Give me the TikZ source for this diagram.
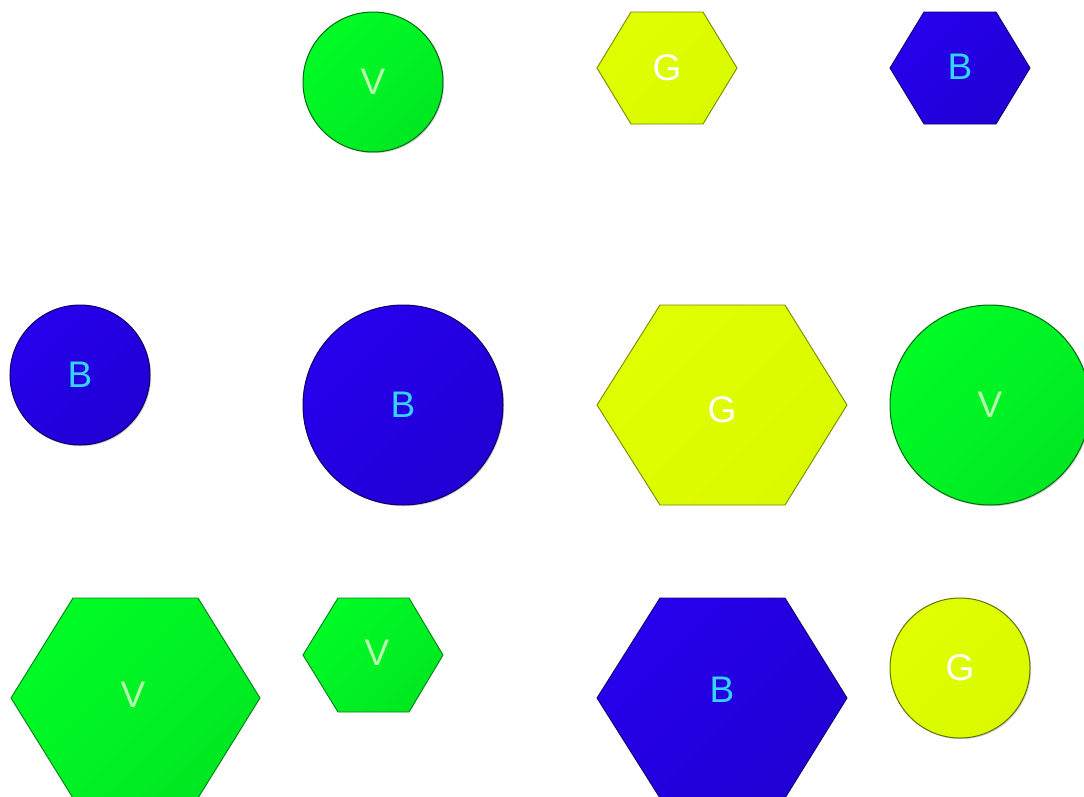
\documentclass[tikz,border=0pt]{standalone}
\usepackage{fontspec}
\setmainfont{Liberation Sans}
\usepackage{tikz}
\usetikzlibrary{shadows}
\definecolor{vgreen}{RGB}{0,252,38}
\definecolor{vgreenD}{RGB}{0,232,34}
\definecolor{vgreenT}{RGB}{185,255,175}
\definecolor{gyellow}{RGB}{224,255,0}
\definecolor{gyellowD}{RGB}{218,250,0}
\definecolor{bblue}{RGB}{38,0,236}
\definecolor{bblueD}{RGB}{32,0,212}
\definecolor{bblueT}{RGB}{55,210,255}

\begin{document}
\begin{tikzpicture}[x=1pt, y=1pt,
  every node/.style={font=\fontsize{37}{40}\selectfont, inner sep=0pt},
  ball/.style={circle, draw=#1D!45!black, line width=1pt, top color=#1, bottom color=#1D, shading angle=45,
    drop shadow={shadow xshift=1.2pt, shadow yshift=-1.2pt, opacity=0.35}},
  hex/.style={draw=#1D!55!black, line width=0.9pt, top color=#1, bottom color=#1D, shading angle=45},
  vtext/.style={text=vgreenT},
  gtext/.style={text=white},
  btext/.style={text=bblueT}]
\useasboundingbox (0,0) rectangle (1084,-796);

% row 1
\node[ball=vgreen, vtext, minimum size=140pt] (v1) at (373,-82) {V};
\draw[hex=gyellow] (597,-68) -- (631,-12) -- (703,-12) -- (737,-68) -- (703,-124) -- (631,-124) -- cycle;
\node[gtext] (g1) at (667,-68) {G};
\draw[hex=bblue] (890,-68) -- (924,-12) -- (996,-12) -- (1030,-68) -- (996,-124) -- (924,-124) -- cycle;
\node[btext] (b1) at (960,-67) {B};

% row 2
\node[ball=bblue, btext, minimum size=140pt] (b2) at (80,-375) {B};
\node[ball=bblue, btext, minimum size=200pt] (b3) at (403,-405) {B};
\draw[hex=gyellow] (597,-405) -- (660,-305) -- (785,-305) -- (847,-405) -- (785,-505) -- (660,-505) -- cycle;
\node[gtext] (g2) at (722,-410) {G};
\node[ball=vgreen, vtext, minimum size=200pt] (v2) at (990,-405) {V};

% row 3
\draw[hex=vgreen] (11,-698) -- (73,-598) -- (198,-598) -- (260,-698) -- (198,-798) -- (73,-798) -- cycle;
\node[vtext] (v3) at (133,-695) {V};
\draw[hex=vgreen] (303,-655) -- (338,-598) -- (409,-598) -- (443,-655) -- (409,-712) -- (338,-712) -- cycle;
\node[vtext] (v4) at (377,-653) {V};
\draw[hex=bblue] (597,-698) -- (660,-598) -- (785,-598) -- (847,-698) -- (785,-798) -- (660,-798) -- cycle;
\node[btext] (b4) at (722,-690) {B};
\node[ball=gyellow, gtext, minimum size=140pt] (g3) at (960,-668) {G};
\end{tikzpicture}
\end{document}
